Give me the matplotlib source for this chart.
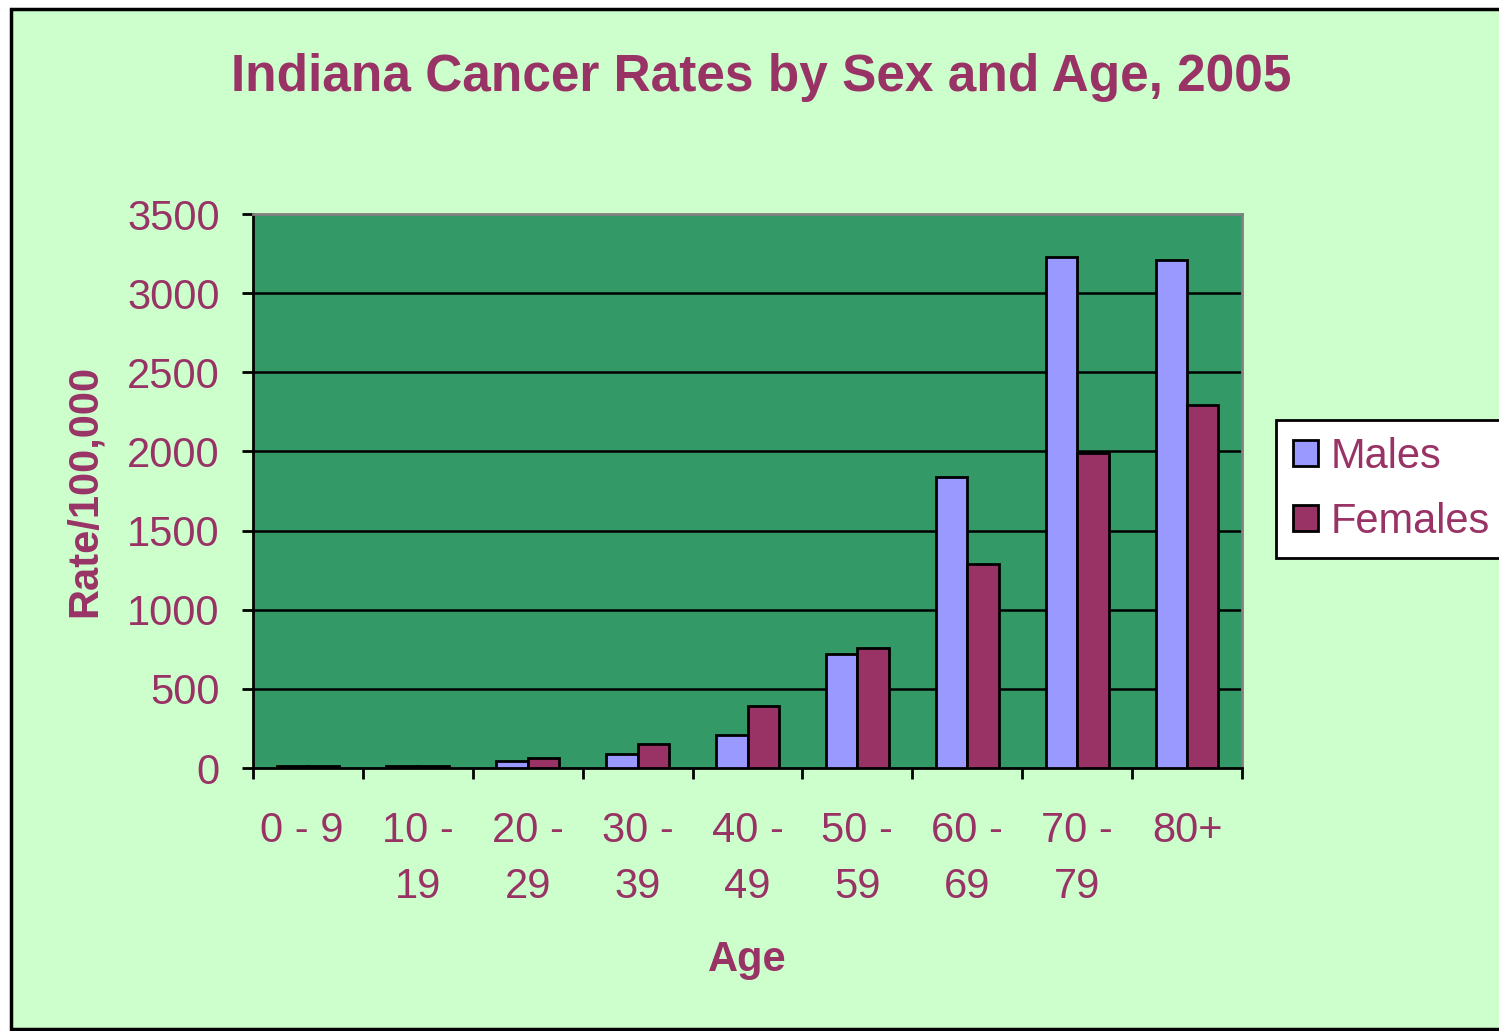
import numpy as np
import matplotlib.pyplot as plt
from matplotlib.patches import Rectangle

ages = ['0 - 9 ', '10 -\n19', '20 -\n29', '30 -\n39', '40 -\n49',
        '50 -\n59', '60 -\n69', '70 -\n79', '80+']
males = [12, 10, 46, 88, 210, 720, 1838, 3228, 3209]
females = [15, 12, 65, 150, 394, 758, 1289, 1990, 2293]

plum = '#993366'
plt.rcParams['font.family'] = ['Liberation Sans', 'DejaVu Sans']

fig = plt.figure(figsize=(14.99, 10.31), dpi=100, facecolor='white')
# outer chart area with border
fig.patches.append(Rectangle((11/1499, 2/1031), 1.2, 1 - 11/1031, transform=fig.transFigure,
                             facecolor='#CCFFCC', edgecolor='black', lw=2.5, zorder=-5))

ax = fig.add_axes([253/1499, 1 - 768/1031, 989/1499, 554/1031])
ax.set_facecolor('#339966')

x = np.arange(len(ages))
w = 0.286
ax.bar(x + 0.214, males, w, align='edge', color='#9999FF', edgecolor='black', lw=2, label='Males', zorder=3)
ax.bar(x + 0.5, females, w, align='edge', color=plum, edgecolor='black', lw=2, label='Females', zorder=3)

ax.set_xlim(0, 9)
ax.set_ylim(0, 3500)
ax.set_yticks(np.arange(0, 3501, 500))
for yv in np.arange(500, 3500, 500):
    ax.axhline(yv, color='black', lw=1.8, zorder=1)

ax.set_xticks(np.arange(0, 10))
ax.set_xticklabels([])
ax.set_xticks(x + 0.5, minor=True)
ax.set_xticklabels(ages, minor=True, linespacing=1.5)
ax.tick_params(axis='x', which='major', length=8, width=2, direction='out')
ax.tick_params(axis='x', which='minor', length=0, pad=31, labelsize=30, labelcolor=plum)
ax.tick_params(axis='y', length=8, width=2, direction='out', pad=16, labelsize=30, labelcolor=plum)

for s in ['left', 'bottom']:
    ax.spines[s].set_color('black')
    ax.spines[s].set_linewidth(2)
for s in ['top', 'right']:
    ax.spines[s].set_color('#808080')
    ax.spines[s].set_linewidth(2)

ax.set_ylabel('Rate/100,000', fontsize=30, fontweight='bold', color=plum)
ax.yaxis.set_label_coords(-0.15, 0.5)
ax.set_xlabel('Age', fontsize=30, fontweight='bold', color=plum)
ax.xaxis.set_label_coords(0.5, -0.347)
ax.xaxis.label.set_va('center')

fig.text(761/1499, 1 - 77/1031, 'Indiana Cancer Rates by Sex and Age, 2005',
         ha='center', va='center', fontsize=37, fontweight='bold', color=plum)

leg = fig.legend(loc='upper left', bbox_to_anchor=(1276/1499, 1 - 420/1031),
                 borderaxespad=0, fontsize=30, handlelength=0.6, handleheight=0.6,
                 handletextpad=0.3, labelspacing=0.6, borderpad=0.4, fancybox=False,
                 framealpha=1, edgecolor='black')
leg.get_frame().set_linewidth(2)
for t in leg.get_texts():
    t.set_color(plum)

fig.savefig('out.png', dpi=100)
